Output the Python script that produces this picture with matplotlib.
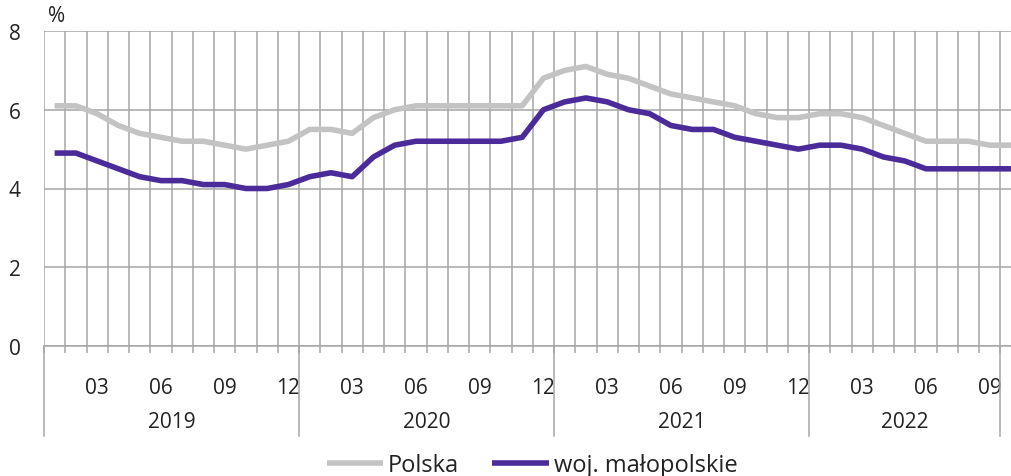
import matplotlib
matplotlib.use("Agg")
import matplotlib.pyplot as plt
import matplotlib.transforms as mtransforms
import numpy as np

years = [2019, 2020, 2021, 2022]
months_per_year = [12, 12, 12, 10]
month_numbers = [m for n in months_per_year for m in range(1, n + 1)]
labelled_months = [3, 6, 9, 12]

polska = [6.1, 6.1, 5.9, 5.6, 5.4, 5.3, 5.2, 5.2, 5.1, 5.0, 5.1, 5.2,
          5.5, 5.5, 5.4, 5.8, 6.0, 6.1, 6.1, 6.1, 6.1, 6.1, 6.1, 6.8,
          7.0, 7.1, 6.9, 6.8, 6.6, 6.4, 6.3, 6.2, 6.1, 5.9, 5.8, 5.8,
          5.9, 5.9, 5.8, 5.6, 5.4, 5.2, 5.2, 5.2, 5.1, 5.1]
malopolskie = [4.9, 4.9, 4.7, 4.5, 4.3, 4.2, 4.2, 4.1, 4.1, 4.0, 4.0, 4.1,
               4.3, 4.4, 4.3, 4.8, 5.1, 5.2, 5.2, 5.2, 5.2, 5.2, 5.3, 6.0,
               6.2, 6.3, 6.2, 6.0, 5.9, 5.6, 5.5, 5.5, 5.3, 5.2, 5.1, 5.0,
               5.1, 5.1, 5.0, 4.8, 4.7, 4.5, 4.5, 4.5, 4.5, 4.5]
series_names = ["Polska", "woj. małopolskie"]
y_ticks = [0, 2, 4, 6, 8]

plt.rcParams['font.family'] = ['Open Sans', 'DejaVu Sans']
GRID = '#a6a6a6'
TXT = '#222222'

fig = plt.figure(figsize=(10.11, 4.77), dpi=100)
W, H = 1011, 477
left, right, top, bottom = 44, 1011, 32, 347
ax = fig.add_axes([left / W, 1 - bottom / H, (right - left) / W, (bottom - top) / H])

x = np.arange(len(polska))
ax.plot(x, polska, color='#c3c3c3', lw=4.0, solid_joinstyle='round', solid_capstyle='butt',
        label=series_names[0], zorder=3)
ax.plot(x, malopolskie, color='#4b2a9a', lw=4.0, solid_joinstyle='round', solid_capstyle='butt',
        label=series_names[1], zorder=4)

n_axis = sum(months_per_year[:-1]) + 9  # categories on axis (through 2022-09)
ax.set_xlim(-0.5, len(polska) - 1)
ax.set_ylim(0, 8)

# y axis
ax.set_yticks(y_ticks)
ax.set_yticklabels([str(v) for v in y_ticks], fontsize=15, color=TXT)
ax.tick_params(axis='y', length=0, pad=17)
ax.yaxis.grid(True, color=GRID, lw=1.1)

# x axis: month boundaries as minor ticks / gridlines
bounds = np.arange(-0.5, n_axis, 1.0)
ax.set_xticks(bounds, minor=True)
ax.xaxis.grid(True, which='minor', color=GRID, lw=1.1)
ax.tick_params(axis='x', which='minor', length=5, width=1.1, color=GRID, direction='out')
lab_pos = [i for i, m in enumerate(month_numbers) if m in labelled_months]
ax.set_xticks(lab_pos)
ax.set_xticklabels([f"{month_numbers[i]:02d}" for i in lab_pos], fontsize=15, color=TXT)
ax.tick_params(axis='x', which='major', length=0, pad=22)

for s in ['top', 'right', 'left']:
    ax.spines[s].set_visible(False)
ax.spines['bottom'].set_color(GRID)
ax.spines['bottom'].set_linewidth(1.1)
ax.set_axisbelow(True)

# year separators and labels
trans = mtransforms.blended_transform_factory(ax.transData, ax.transAxes)
sep_depth = -(437 - bottom) / (bottom - top)
start = -0.5
seps = [start]
for yr, n in zip(years, months_per_year):
    end = start + (n if yr != 2022 else 9)
    seps.append(end)
    ax.text((start + end) / 2, -(422 - bottom) / (bottom - top), str(yr), transform=trans,
            ha='center', va='center', fontsize=15, color=TXT)
    start = end
for b in seps:
    ax.plot([b, b], [0, sep_depth], transform=trans, color=GRID, lw=1.1, clip_on=False)

ax.text(-0.3, 1.0 + (32 - 17) / (bottom - top), '%', transform=trans, ha='left', va='center',
        fontsize=15, color=TXT)

fig.legend(loc='center', bbox_to_anchor=(532 / W, 1 - 466 / H), ncol=2, frameon=False,
           fontsize=17, handlelength=2.4, handletextpad=0.2, columnspacing=1.4,
           labelcolor=TXT)

fig.savefig('out.png', dpi=100)
